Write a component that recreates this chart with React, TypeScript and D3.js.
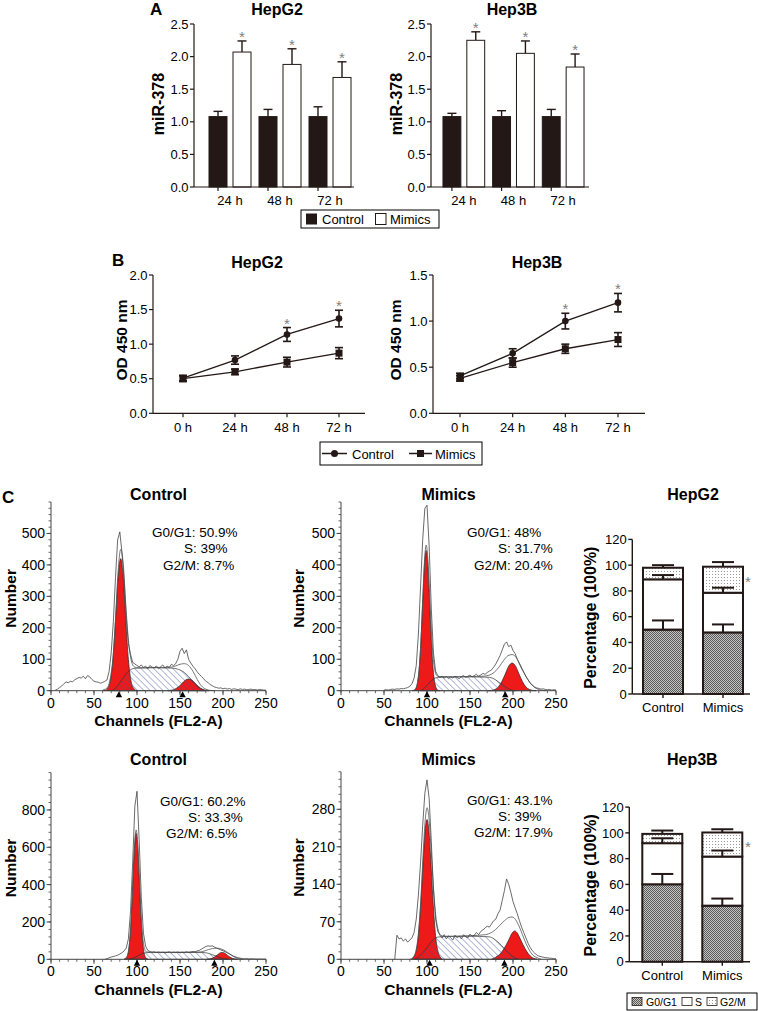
import React from 'react';
import * as d3 from 'd3';

const FONT = '"Liberation Sans", Arial, Helvetica, sans-serif';
const INK = '#231815';
const RED = '#ee1a1a';
const HATCH = '#3d4f9a';
const RAW_STEP = 2.5;

// ---------- Panel A ----------
const A_GROUPS = ['24 h', '48 h', '72 h'];
const A_SERIES = ['Control', 'Mimics'];
const A_Y_TICKS = [0, 0.5, 1.0, 1.5, 2.0, 2.5];
const A_HEPG2_CONTROL = [1.08, 1.08, 1.08];
const A_HEPG2_CONTROL_ERR = [0.08, 0.11, 0.15];
const A_HEPG2_MIMICS = [2.07, 1.88, 1.68];
const A_HEPG2_MIMICS_ERR = [0.17, 0.24, 0.24];
const A_HEP3B_CONTROL = [1.08, 1.08, 1.08];
const A_HEP3B_CONTROL_ERR = [0.05, 0.09, 0.11];
const A_HEP3B_MIMICS = [2.25, 2.05, 1.84];
const A_HEP3B_MIMICS_ERR = [0.13, 0.19, 0.2];

// ---------- Panel B ----------
const B_TIMES = ['0 h', '24 h', '48 h', '72 h'];
const B_SERIES = ['Control', 'Mimics'];
const B_HEPG2_TICKS = [0, 0.5, 1.0, 1.5, 2.0];
const B_HEP3B_TICKS = [0, 0.5, 1.0, 1.5];
const B_HEPG2_CONTROL = [0.51, 0.77, 1.14, 1.37];
const B_HEPG2_CONTROL_ERR = [0.04, 0.06, 0.1, 0.12];
const B_HEPG2_MIMICS = [0.5, 0.6, 0.74, 0.87];
const B_HEPG2_MIMICS_ERR = [0.04, 0.04, 0.07, 0.08];
const B_HEP3B_CONTROL = [0.405, 0.65, 1.0, 1.2];
const B_HEP3B_CONTROL_ERR = [0.03, 0.05, 0.085, 0.1];
const B_HEP3B_MIMICS = [0.38, 0.55, 0.7, 0.8];
const B_HEP3B_MIMICS_ERR = [0.03, 0.05, 0.05, 0.075];
const B_SIG = [false, false, true, true];

// ---------- Panel C : histograms ----------
const X_MAJOR = [0, 50, 100, 150, 200, 250];
const RAW_H1_START = 5;
const RAW_H1 = [2, 5, 10, 15, 22, 28, 25, 30, 28, 35, 38, 42, 40, 46, 38, 48, 44, 36, 30, 28, 27, 24, 26, 30, 34, 60, 120, 220, 360, 480, 505, 440, 350, 230, 150, 115, 90, 85, 80, 76, 82, 74, 78, 70, 80, 75, 72, 79, 70, 76, 82, 72, 78, 74, 84, 80, 86, 100, 125, 135, 118, 130, 100, 88, 78, 70, 60, 52, 45, 38, 30, 26, 20, 16, 12, 10, 8, 9, 6, 8, 5, 7, 4, 6, 5, 3, 6, 4, 5, 3, 4, 5, 3, 4, 2, 4, 3, 2, 2];
const G1_H1 = [[61, 0], [63, 1], [66, 8], [69, 32], [72, 99], [75, 221], [78, 358], [81, 420], [84, 358], [87, 221], [90, 99], [93, 32], [96, 8], [99, 1], [101, 0]];
const S_H1 = [[70, 0], [75, 8], [80, 25], [85, 45], [90, 62], [95, 70], [100, 72], [120, 73], [140, 72], [148, 68], [155, 58], [160, 45], [165, 30], [170, 15], [175, 5], [180, 0]];
const G2_H1 = [[136, 0], [140, 1.6], [144, 5], [148, 12], [152, 22], [156, 33], [160, 37], [164, 33], [168, 22], [172, 12], [176, 5], [180, 1.6], [184, 0]];
const FIT_H1 = [[60, 2], [63, 5], [66, 12], [69, 40], [72, 102], [75, 229], [78, 378], [81, 449], [84, 403], [87, 273], [90, 161], [93, 100], [96, 78], [100, 73], [110, 73], [120, 74], [130, 74], [140, 75], [145, 79], [150, 84], [155, 86], [160, 80], [165, 62], [170, 36], [175, 15], [180, 5], [185, 1], [190, 0]];
const MARK_H1 = [79, 153];
const LBL_H1 = ['G0/G1: 50.9%', 'S: 39%', 'G2/M: 8.7%'];

const RAW_H2_START = 50;
const RAW_H2 = [2, 3, 2, 4, 5, 4, 6, 5, 7, 6, 8, 10, 14, 22, 40, 80, 180, 330, 480, 580, 590, 460, 260, 120, 62, 48, 42, 46, 40, 45, 38, 44, 40, 46, 42, 38, 45, 48, 42, 46, 50, 44, 48, 52, 46, 50, 55, 52, 58, 62, 66, 75, 85, 98, 112, 130, 148, 155, 140, 145, 128, 118, 100, 85, 70, 58, 45, 35, 25, 18, 12, 9, 7, 5, 6, 4, 3, 4, 2, 3, 2];
const G1_H2 = [[83, 0], [85, 1], [87, 7], [89, 26], [91, 72], [93, 159], [95, 282], [97, 398], [99, 446], [101, 398], [103, 282], [105, 159], [107, 72], [109, 26], [111, 7], [113, 1], [115, 0]];
const S_H2 = [[92, 0], [96, 6], [100, 17], [104, 29], [108, 38], [112, 42], [130, 44], [150, 44], [170, 43], [176, 40], [180, 34], [185, 24], [190, 14], [195, 6], [200, 1], [203, 0]];
const G2_H2 = [[171, 0], [175, 1], [179, 4], [183, 12], [187, 29], [191, 53], [195, 78], [199, 88], [203, 78], [207, 53], [211, 29], [215, 12], [219, 4], [223, 1], [227, 0]];
const FIT_H2 = [[84, 1], [87, 7], [89, 26], [91, 72], [93, 161], [95, 288], [97, 409], [99, 463], [101, 420], [103, 311], [105, 194], [107, 110], [109, 67], [111, 49], [114, 45], [130, 44], [150, 45], [165, 46], [172, 49], [178, 58], [184, 76], [189, 96], [194, 111], [199, 115], [203, 108], [207, 90], [211, 68], [215, 46], [219, 28], [223, 15], [228, 6], [234, 1], [238, 0]];
const MARK_H2 = [100, 191];
const LBL_H2 = ['G0/G1: 48%', 'S: 31.7%', 'G2/M: 20.4%'];

const RAW_H3_START = 62.5;
const RAW_H3 = [0, 3, 8, 12, 15, 18, 22, 28, 35, 45, 60, 110, 260, 520, 820, 900, 640, 330, 140, 70, 48, 42, 38, 40, 36, 39, 35, 38, 34, 37, 40, 35, 38, 36, 39, 34, 38, 36, 40, 37, 39, 42, 40, 45, 48, 55, 62, 68, 72, 70, 72, 66, 60, 55, 50, 46, 40, 34, 28, 22, 16, 12, 8, 6, 4, 3, 4, 2, 3, 2, 2, 1, 2, 1, 1, 1];
const G1_H3 = [[85, 0], [87, 5], [89, 21], [91, 74], [93, 195], [95, 389], [97, 588], [99, 675], [101, 588], [103, 389], [105, 195], [107, 74], [109, 21], [111, 5], [113, 0]];
const S_H3 = [[90, 0], [95, 6], [100, 16], [105, 28], [110, 35], [115, 37], [150, 37], [178, 36], [183, 32], [188, 24], [193, 15], [198, 7], [203, 2], [206, 0]];
const G2_H3 = [[181, 0], [184, 1.6], [187, 5], [190, 12], [193, 22], [196, 33], [199, 37], [202, 33], [205, 22], [208, 12], [211, 5], [214, 1.6], [217, 0]];
const FIT_H3 = [[85, 0], [89, 21], [91, 75], [93, 197], [95, 393], [97, 596], [99, 693], [101, 610], [103, 414], [105, 222], [107, 104], [109, 54], [111, 40], [115, 38], [150, 38], [172, 39], [178, 44], [183, 52], [188, 58], [193, 60], [198, 55], [203, 44], [208, 28], [213, 13], [218, 4], [223, 0]];
const MARK_H3 = [100, 190];
const LBL_H3 = ['G0/G1: 60.2%', 'S: 33.3%', 'G2/M: 6.5%'];

const RAW_H4_START = 62.5;
const RAW_H4 = [0, 45, 38, 40, 34, 38, 32, 36, 40, 50, 75, 120, 180, 250, 310, 335, 300, 220, 130, 75, 52, 45, 40, 46, 38, 44, 40, 36, 45, 40, 43, 38, 46, 42, 40, 47, 43, 45, 50, 46, 52, 55, 58, 62, 60, 66, 72, 75, 85, 92, 110, 128, 150, 140, 125, 108, 96, 85, 72, 60, 50, 40, 30, 22, 16, 12, 8, 6, 5, 4, 3, 3, 2, 2, 1, 1];
const G1_H4 = [[82, 0], [84, 3], [87, 13], [90, 44], [93, 109], [96, 196], [98, 243], [100, 261], [102, 243], [104, 196], [107, 109], [110, 44], [113, 13], [116, 3], [118, 0]];
const S_H4 = [[86, 0], [90, 4], [95, 12], [100, 22], [105, 33], [110, 40], [115, 42], [150, 43], [172, 42], [178, 38], [184, 30], [190, 20], [196, 10], [202, 3], [206, 0]];
const G2_H4 = [[175, 0], [180, 4], [185, 10], [190, 21], [195, 36], [199, 49], [202, 53], [205, 49], [209, 36], [214, 20], [219, 8], [224, 2], [228, 0]];
const FIT_H4 = [[80, 0], [84, 4], [87, 15], [90, 48], [93, 118], [96, 211], [98, 261], [100, 283], [102, 268], [104, 225], [107, 146], [110, 84], [113, 55], [116, 45], [120, 43], [150, 44], [168, 46], [175, 50], [180, 56], [185, 64], [190, 72], [195, 78], [199, 79], [203, 74], [207, 62], [211, 46], [215, 30], [219, 17], [223, 8], [228, 3], [233, 0]];
const MARK_H4 = [103, 190];
const LBL_H4 = ['G0/G1: 43.1%', 'S: 39%', 'G2/M: 17.9%'];

// ---------- Panel C : stacked bars ----------
const C_GROUPS = ['Control', 'Mimics'];
const C_PHASES = ['G0/G1', 'S', 'G2/M'];
const C_Y_TICKS = [0, 20, 40, 60, 80, 100, 120];
const C_HEPG2_G1 = [50, 47.8];
const C_HEPG2_G1_ERR = [7.1, 6.2];
const C_HEPG2_S = [39, 30.8];
const C_HEPG2_S_ERR = [3.3, 3.9];
const C_HEPG2_G2 = [9, 20.2];
const C_HEPG2_G2_ERR = [2, 3.6];
const C_HEP3B_G1 = [60.1, 43.5];
const C_HEP3B_G1_ERR = [8, 5.5];
const C_HEP3B_S = [31.9, 38.1];
const C_HEP3B_S_ERR = [3.8, 4.7];
const C_HEP3B_G2 = [7.2, 18.7];
const C_HEP3B_G2_ERR = [2.6, 2.5];

// ======================================================
function PanelA({ title, titleX, axisX0, axisX1, band0, band1, ctrl, ctrlErr, mim, mimErr, ylabX }: any) {
  const y = d3.scaleLinear().domain([0, 2.5]).range([187, 24]);
  const x = d3.scaleBand<string>().domain(A_GROUPS).range([band0, band1]);
  const xs = d3.scaleBand<string>().domain(A_SERIES).range([0, x.bandwidth()]).paddingInner(0.25).paddingOuter(1 / 6);
  const bw = xs.bandwidth();
  const capW = 4.5;
  const series = [
    { key: 'Control', v: ctrl, e: ctrlErr, fill: INK },
    { key: 'Mimics', v: mim, e: mimErr, fill: '#fff' },
  ];
  return (
    <g>
      <text x={titleX} y={15} textAnchor="middle" fontSize={16} fontWeight="bold">{title}</text>
      <text transform={`translate(${ylabX},104) rotate(-90)`} textAnchor="middle" dominantBaseline="central" fontSize={16} fontWeight="bold">miR-378</text>
      {series.map((s) =>
        A_GROUPS.map((g, i) => {
          const bx = (x(g) as number) + (xs(s.key) as number);
          const cx = bx + bw / 2;
          const top = y(s.v[i] + s.e[i]);
          return (
            <g key={s.key + g}>
              <line x1={cx} x2={cx} y1={y(s.v[i])} y2={top} stroke={INK} strokeWidth={1.4} />
              <line x1={cx - capW} x2={cx + capW} y1={top} y2={top} stroke={INK} strokeWidth={1.4} />
              <rect x={bx} y={y(s.v[i])} width={bw} height={y(0) - y(s.v[i])} fill={s.fill} stroke={INK} strokeWidth={1} />
              {s.key === 'Mimics' && (
                <text x={cx} y={top + 1} textAnchor="middle" fontSize={15} fill="#808080">*</text>
              )}
            </g>
          );
        })
      )}
      <line x1={axisX0} x2={axisX0} y1={y(0)} y2={y(2.5)} stroke={INK} strokeWidth={1.2} />
      {A_Y_TICKS.map((t) => (
        <g key={t}>
          <line x1={axisX0 - 4} x2={axisX0} y1={y(t)} y2={y(t)} stroke={INK} strokeWidth={1.2} />
          <text x={axisX0 - 5.5} y={y(t)} dy="0.36em" textAnchor="end" fontSize={13}>{t.toFixed(1)}</text>
        </g>
      ))}
      <line x1={axisX0} x2={axisX1} y1={y(0)} y2={y(0)} stroke={INK} strokeWidth={1.2} />
      {A_GROUPS.map((g) => {
        const tx = (x(g) as number) + (xs('Control') as number) + bw / 2;
        const lx = (x(g) as number) + x.bandwidth() / 2;
        return (
          <g key={g}>
            <line x1={tx} x2={tx} y1={y(0)} y2={y(0) + 4} stroke={INK} strokeWidth={1.2} />
            <text x={lx} y={205} textAnchor="middle" fontSize={13}>{g}</text>
          </g>
        );
      })}
    </g>
  );
}

function PanelB({ title, titleX, yMax, ticks, axisX0, axisX1, p0, p1, ctrl, ctrlErr, mim, mimErr, ylabX }: any) {
  const y = d3.scaleLinear().domain([0, yMax]).range([413.3, 275]);
  const x = d3.scalePoint<string>().domain(B_TIMES).range([p0, p1]);
  const line = d3.line<number>().x((_, i) => x(B_TIMES[i]) as number).y((d) => y(d));
  const capW = 4;
  const series = [
    { key: 'Control', v: ctrl, e: ctrlErr, marker: 'circle' },
    { key: 'Mimics', v: mim, e: mimErr, marker: 'square' },
  ];
  return (
    <g>
      <text x={titleX} y={268} textAnchor="middle" fontSize={16} fontWeight="bold">{title}</text>
      <text transform={`translate(${ylabX},340) rotate(-90)`} textAnchor="middle" dominantBaseline="central" fontSize={15.5} fontWeight="bold">OD 450 nm</text>
      <line x1={axisX0} x2={axisX0} y1={y(0)} y2={y(yMax)} stroke={INK} strokeWidth={1.2} />
      {ticks.map((t: number) => (
        <g key={t}>
          <line x1={axisX0 - 4} x2={axisX0} y1={y(t)} y2={y(t)} stroke={INK} strokeWidth={1.2} />
          <text x={axisX0 - 5.5} y={y(t)} dy="0.36em" textAnchor="end" fontSize={13}>{t.toFixed(1)}</text>
        </g>
      ))}
      <line x1={axisX0} x2={axisX1} y1={y(0)} y2={y(0)} stroke={INK} strokeWidth={1.2} />
      {B_TIMES.map((t) => (
        <g key={t}>
          <line x1={x(t) as number} x2={x(t) as number} y1={y(0)} y2={y(0) + 4} stroke={INK} strokeWidth={1.2} />
          <text x={x(t) as number} y={432} textAnchor="middle" fontSize={13}>{t}</text>
        </g>
      ))}
      {series.map((s) => (
        <g key={s.key}>
          <path d={line(s.v) as string} fill="none" stroke={INK} strokeWidth={1.3} />
          {s.v.map((v: number, i: number) => {
            const cx = x(B_TIMES[i]) as number;
            const lo = y(v - s.e[i]);
            const hi = y(v + s.e[i]);
            return (
              <g key={i}>
                <line x1={cx} x2={cx} y1={lo} y2={hi} stroke={INK} strokeWidth={1.6} />
                <line x1={cx - capW} x2={cx + capW} y1={lo} y2={lo} stroke={INK} strokeWidth={1.6} />
                <line x1={cx - capW} x2={cx + capW} y1={hi} y2={hi} stroke={INK} strokeWidth={1.6} />
                {s.marker === 'circle' ? (
                  <circle cx={cx} cy={y(v)} r={3.3} fill={INK} />
                ) : (
                  <rect x={cx - 3.5} y={y(v) - 3.5} width={7} height={7} fill={INK} />
                )}
                {s.key === 'Control' && B_SIG[i] && (
                  <text x={cx} y={hi + 1} textAnchor="middle" fontSize={15} fill="#808080">*</text>
                )}
              </g>
            );
          })}
        </g>
      ))}
    </g>
  );
}

function Hist({ c }: any) {
  const x = d3.scaleLinear().domain([0, 250]).range([c.x0, c.x1]);
  const y = d3.scaleLinear().domain([0, c.yMax]).range([c.yBase, c.yTop]);
  const area = d3.area<number[]>().x((d) => x(d[0])).y0(y(0)).y1((d) => y(d[1])).curve(d3.curveMonotoneX);
  const fitLine = d3.line<number[]>().x((d) => x(d[0])).y((d) => y(d[1])).curve(d3.curveMonotoneX);
  const rawLine = d3.line<number>().x((_, i) => x(c.rawStart + i * RAW_STEP)).y((d) => y(d));
  const yMinor = d3.range(0, c.yMax + 0.001, c.yMinor);
  const xMinor = d3.range(0, 250.001, 10);
  const cx = (c.x0 + c.x1) / 2;
  return (
    <g>
      <text x={cx} y={c.titleY} textAnchor="middle" fontSize={16} fontWeight="bold">{c.title}</text>
      <path d={area(c.g1) as string} fill={RED} stroke="#222" strokeWidth={0.7} />
      <path d={area(c.g2) as string} fill={RED} stroke="#222" strokeWidth={0.7} />
      <path d={area(c.s) as string} fill="url(#hatch)" stroke="#333" strokeWidth={0.7} />
      <path d={fitLine(c.fit) as string} fill="none" stroke="#555" strokeWidth={0.8} />
      <path d={rawLine(c.raw) as string} fill="none" stroke="#444" strokeWidth={0.8} />
      <line x1={c.x0} x2={c.x0} y1={y(0)} y2={y(c.yMax)} stroke="#444" strokeWidth={1} />
      {yMinor.map((t: number) => (
        <line key={'ym' + t} x1={c.x0 - 2.5} x2={c.x0} y1={y(t)} y2={y(t)} stroke="#444" strokeWidth={0.8} />
      ))}
      {c.yMajor.map((t: number) => (
        <g key={'yM' + t}>
          <line x1={c.x0 - 4.5} x2={c.x0} y1={y(t)} y2={y(t)} stroke="#444" strokeWidth={1} />
          <text x={c.x0 - 6} y={y(t)} dy="0.36em" textAnchor="end" fontSize={14}>{t}</text>
        </g>
      ))}
      <line x1={c.x0} x2={c.x1} y1={y(0)} y2={y(0)} stroke="#444" strokeWidth={1} />
      {xMinor.map((t: number) => (
        <line key={'xm' + t} x1={x(t)} x2={x(t)} y1={y(0)} y2={y(0) + 2.5} stroke="#444" strokeWidth={0.8} />
      ))}
      {X_MAJOR.map((t) => (
        <g key={'xM' + t}>
          <line x1={x(t)} x2={x(t)} y1={y(0)} y2={y(0) + 4.5} stroke="#444" strokeWidth={1} />
          <text x={x(t)} y={y(0) + 17} textAnchor="middle" fontSize={14}>{t}</text>
        </g>
      ))}
      {c.marks.map((m: number) => (
        <path key={'mk' + m} d={`M${x(m)},${y(0) + 0.5} L${x(m) + 3.2},${y(0) + 6.5} L${x(m) - 3.2},${y(0) + 6.5} Z`} fill="#000" />
      ))}
      <text x={cx} y={y(0) + 35.5} textAnchor="middle" fontSize={15.5} fontWeight="bold">Channels (FL2-A)</text>
      <text transform={`translate(${c.ylabX},${(y(0) + y(c.yMax)) / 2 + 2}) rotate(-90)`} textAnchor="middle" dominantBaseline="central" fontSize={15.5} fontWeight="bold">Number</text>
      {c.labels.map((l: string, i: number) => (
        <text key={l} x={c.labelX[i]} y={c.labelY[i]} fontSize={13.5}>{l}</text>
      ))}
    </g>
  );
}

function Stack({ title, titleY, axisX, axisEnd, yBase, band0, band1, g1, g1e, s, se, g2, g2e }: any) {
  const y = d3.scaleLinear().domain([0, 120]).range([yBase, yBase - 154.6]);
  const x = d3.scaleBand<string>().domain(C_GROUPS).range([band0, band1]).paddingInner(1 / 3).paddingOuter(1 / 6);
  const bw = x.bandwidth();
  const stackData = C_GROUPS.map((g, i) => ({ g, G1: g1[i], S: s[i], G2: g2[i] }));
  const stacked = d3.stack<any>().keys(['G1', 'S', 'G2'])(stackData);
  const fills: Record<string, string> = { G1: 'url(#g1pat)', S: '#fff', G2: 'url(#g2pat)' };
  const errs: Record<string, number[]> = { G1: g1e, S: se, G2: g2e };
  const capW = 11;
  return (
    <g>
      <text x={(band0 + band1) / 2} y={titleY} textAnchor="middle" fontSize={16} fontWeight="bold">{title}</text>
      <text transform={`translate(590,${(y(0) + y(120)) / 2 + 1}) rotate(-90)`} textAnchor="middle" dominantBaseline="central" fontSize={16} fontWeight="bold">Percentage (100%)</text>
      {stacked.map((layer) =>
        layer.map((d, i) => (
          <rect key={layer.key + i} x={x(C_GROUPS[i]) as number} y={y(d[1])} width={bw} height={y(d[0]) - y(d[1])} fill={fills[layer.key]} stroke={INK} strokeWidth={2} />
        ))
      )}
      {stacked.map((layer) =>
        layer.map((d, i) => {
          const cx = (x(C_GROUPS[i]) as number) + bw / 2;
          const top = y(d[1] + errs[layer.key][i]);
          return (
            <g key={'e' + layer.key + i}>
              <line x1={cx} x2={cx} y1={y(d[1])} y2={top} stroke={INK} strokeWidth={2} />
              <line x1={cx - capW} x2={cx + capW} y1={top} y2={top} stroke={INK} strokeWidth={2} />
            </g>
          );
        })
      )}
      {(() => {
        const last = stacked[2][1];
        return <text x={748} y={y((last[0] + last[1]) / 2) + 7.5} textAnchor="middle" fontSize={15} fill="#808080">*</text>;
      })()}
      <line x1={axisX} x2={axisX} y1={y(0)} y2={y(120)} stroke={INK} strokeWidth={1.4} />
      {C_Y_TICKS.map((t) => (
        <g key={t}>
          <line x1={axisX - 4} x2={axisX} y1={y(t)} y2={y(t)} stroke={INK} strokeWidth={1.4} />
          <text x={axisX - 5.5} y={y(t)} dy="0.36em" textAnchor="end" fontSize={13}>{t}</text>
        </g>
      ))}
      <line x1={axisX} x2={axisEnd} y1={y(0)} y2={y(0)} stroke={INK} strokeWidth={1.4} />
      {C_GROUPS.map((g) => (
        <g key={g}>
          <line x1={(x(g) as number) + bw / 2} x2={(x(g) as number) + bw / 2} y1={y(0)} y2={y(0) + 4} stroke={INK} strokeWidth={1.4} />
          <text x={(x(g) as number) + bw / 2} y={y(0) + 18} textAnchor="middle" fontSize={13}>{g}</text>
        </g>
      ))}
    </g>
  );
}

const H1 = { x0: 51, x1: 266, yBase: 690.7, yTop: 502, yMax: 600, yMajor: [0, 100, 200, 300, 400, 500], yMinor: 20, raw: RAW_H1, rawStart: RAW_H1_START, g1: G1_H1, s: S_H1, g2: G2_H1, fit: FIT_H1, marks: MARK_H1, labels: LBL_H1, labelX: [152, 184, 163], labelY: [537, 553, 570], title: 'Control', titleY: 500, ylabX: 10 };
const H2 = { x0: 341, x1: 556, yBase: 690.7, yTop: 502, yMax: 600, yMajor: [0, 100, 200, 300, 400, 500], yMinor: 20, raw: RAW_H2, rawStart: RAW_H2_START, g1: G1_H2, s: S_H2, g2: G2_H2, fit: FIT_H2, marks: MARK_H2, labels: LBL_H2, labelX: [467, 498, 474], labelY: [537, 553, 570], title: 'Mimics', titleY: 500, ylabX: 298 };
const H3 = { x0: 51, x1: 266, yBase: 959.3, yTop: 772.6, yMax: 1000, yMajor: [0, 200, 400, 600, 800], yMinor: 40, raw: RAW_H3, rawStart: RAW_H3_START, g1: G1_H3, s: S_H3, g2: G2_H3, fit: FIT_H3, marks: MARK_H3, labels: LBL_H3, labelX: [160, 188, 166], labelY: [806, 822, 838], title: 'Control', titleY: 765, ylabX: 10 };
const H4 = { x0: 341, x1: 556, yBase: 959.3, yTop: 771.8, yMax: 350, yMajor: [0, 70, 140, 210, 280], yMinor: 14, raw: RAW_H4, rawStart: RAW_H4_START, g1: G1_H4, s: S_H4, g2: G2_H4, fit: FIT_H4, marks: MARK_H4, labels: LBL_H4, labelX: [467, 498, 474], labelY: [805, 821, 837], title: 'Mimics', titleY: 765, ylabX: 298 };

export default function App() {
  return (
    <svg width={758} height={1011} viewBox="0 0 758 1011" style={{ position: 'absolute', left: 0, top: 0, background: '#fff', fontFamily: FONT }}>
      <defs>
        <pattern id="hatch" patternUnits="userSpaceOnUse" width={4.5} height={4.5} patternTransform="rotate(-45)">
          <line x1={0} y1={0} x2={0} y2={4.5} stroke={HATCH} strokeWidth={0.8} />
        </pattern>
        <pattern id="g1pat" patternUnits="userSpaceOnUse" width={2} height={2}>
          <rect width={2} height={2} fill="#c4c4c4" />
          <rect width={1} height={1} fill="#5a5a5a" />
          <rect x={1} y={1} width={1} height={1} fill="#5a5a5a" />
        </pattern>
        <pattern id="g2pat" patternUnits="userSpaceOnUse" width={3} height={3}>
          <rect width={3} height={3} fill="#fff" />
          <rect x={1} y={1} width={1} height={1} fill="#999" />
        </pattern>
      </defs>
      <rect x={0} y={0} width={758} height={1011} fill="#fff" />

      {/* Panel A */}
      <text x={150} y={15} fontSize={17} fontWeight="bold">A</text>
      <PanelA title="HepG2" titleX={277} axisX0={194} axisX1={354} band0={205} band1={355} ctrl={A_HEPG2_CONTROL} ctrlErr={A_HEPG2_CONTROL_ERR} mim={A_HEPG2_MIMICS} mimErr={A_HEPG2_MIMICS_ERR} ylabX={158} />
      <PanelA title="Hep3B" titleX={512} axisX0={431} axisX1={589} band0={439} band1={588} ctrl={A_HEP3B_CONTROL} ctrlErr={A_HEP3B_CONTROL_ERR} mim={A_HEP3B_MIMICS} mimErr={A_HEP3B_MIMICS_ERR} ylabX={396} />
      <rect x={301} y={210} width={138} height={18} fill="none" stroke="#000" strokeWidth={1} />
      <rect x={306} y={213.5} width={11} height={11} fill={INK} />
      <text x={322} y={224} fontSize={13}>{A_SERIES[0]}</text>
      <rect x={375.5} y={213.5} width={10.5} height={11} fill="#fff" stroke={INK} strokeWidth={1} />
      <text x={390} y={224} fontSize={13}>{A_SERIES[1]}</text>

      {/* Panel B */}
      <text x={112} y={266} fontSize={17} fontWeight="bold">B</text>
      <PanelB title="HepG2" titleX={257} yMax={2.0} ticks={B_HEPG2_TICKS} axisX0={153} axisX1={365} p0={183} p1={339} ctrl={B_HEPG2_CONTROL} ctrlErr={B_HEPG2_CONTROL_ERR} mim={B_HEPG2_MIMICS} mimErr={B_HEPG2_MIMICS_ERR} ylabX={121} />
      <PanelB title="Hep3B" titleX={537} yMax={1.5} ticks={B_HEP3B_TICKS} axisX0={433} axisX1={645} p0={460} p1={618} ctrl={B_HEP3B_CONTROL} ctrlErr={B_HEP3B_CONTROL_ERR} mim={B_HEP3B_MIMICS} mimErr={B_HEP3B_MIMICS_ERR} ylabX={395} />
      <rect x={320} y={442} width={162} height={23} fill="none" stroke="#000" strokeWidth={1} />
      <line x1={322} x2={347} y1={453.5} y2={453.5} stroke={INK} strokeWidth={1.5} />
      <circle cx={334.5} cy={453.5} r={3.5} fill={INK} />
      <text x={352} y={458.5} fontSize={13}>{B_SERIES[0]}</text>
      <line x1={409} x2={432} y1={453.5} y2={453.5} stroke={INK} strokeWidth={1.5} />
      <rect x={417} y={450} width={7} height={7} fill={INK} />
      <text x={435} y={458.5} fontSize={13}>{B_SERIES[1]}</text>

      {/* Panel C */}
      <text x={2} y={503} fontSize={17} fontWeight="bold">C</text>
      <Hist c={H1} />
      <Hist c={H2} />
      <Hist c={H3} />
      <Hist c={H4} />
      <Stack title="HepG2" titleY={500} axisX={632.3} axisEnd={750} yBase={694} band0={633} band1={753} g1={C_HEPG2_G1} g1e={C_HEPG2_G1_ERR} s={C_HEPG2_S} se={C_HEPG2_S_ERR} g2={C_HEPG2_G2} g2e={C_HEPG2_G2_ERR} />
      <Stack title="Hep3B" titleY={765} axisX={629.3} axisEnd={750} yBase={961.7} band0={632.3} band1={752.3} g1={C_HEP3B_G1} g1e={C_HEP3B_G1_ERR} s={C_HEP3B_S} se={C_HEP3B_S_ERR} g2={C_HEP3B_G2} g2e={C_HEP3B_G2_ERR} />
      <rect x={627} y={993} width={130} height={17} fill="none" stroke="#000" strokeWidth={1} />
      <rect x={632} y={997.5} width={10} height={8} fill="url(#g1pat)" stroke={INK} strokeWidth={0.8} />
      <text x={646} y={1005.5} fontSize={10.5}>{C_PHASES[0]}</text>
      <rect x={682} y={997.5} width={10} height={8} fill="#fff" stroke={INK} strokeWidth={0.8} />
      <text x={695} y={1005.5} fontSize={10.5}>{C_PHASES[1]}</text>
      <rect x={707} y={997.5} width={10} height={8} fill="url(#g2pat)" stroke={INK} strokeWidth={0.8} />
      <text x={720} y={1005.5} fontSize={10.5}>{C_PHASES[2]}</text>
    </svg>
  );
}
